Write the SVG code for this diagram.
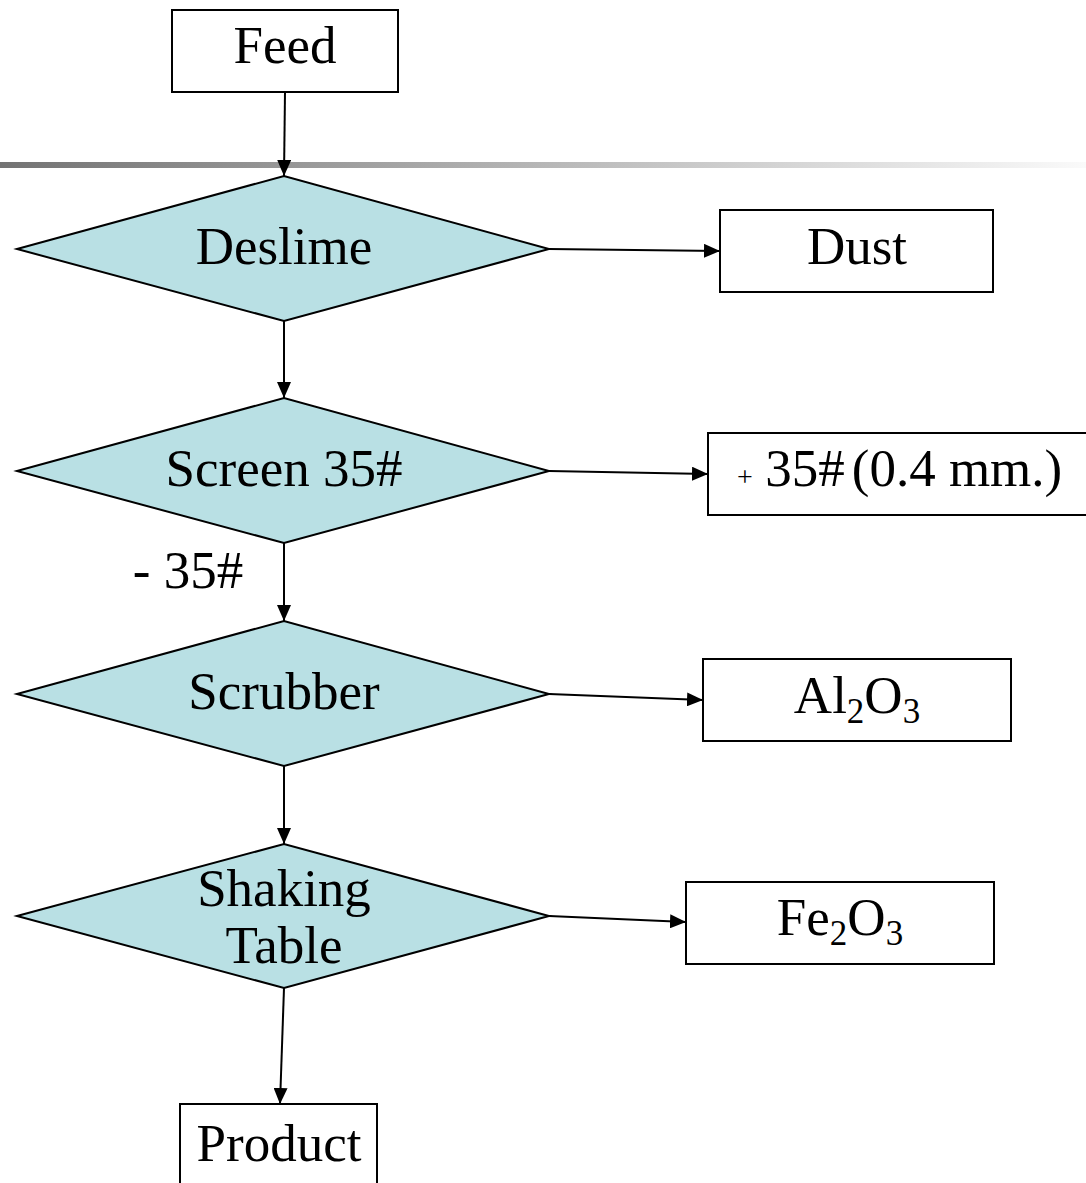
<svg xmlns="http://www.w3.org/2000/svg" width="1086" height="1183" viewBox="0 0 1086 1183">
<style>
.box{fill:#fff;stroke:#000;stroke-width:2}
.dia{fill:#b9e0e4;stroke:#000;stroke-width:2}
.t{font-family:"Liberation Serif","Times New Roman",serif;font-size:53px;fill:#000;text-anchor:middle}
.s{font-size:35px}
.c{stroke:#000;stroke-width:2;fill:none;marker-end:url(#ah)}
</style>
<defs>
<marker id="ah" markerWidth="16" markerHeight="14" refX="16" refY="7" orient="auto" markerUnits="userSpaceOnUse">
<path d="M0,0 L16,7 L0,14 Z" fill="#000"/>
</marker>
<linearGradient id="bar" x1="0" y1="0" x2="1" y2="0">
<stop offset="0" stop-color="#737373"/>
<stop offset="1" stop-color="#fafafa"/>
</linearGradient>
</defs>
<rect x="0" y="162" width="1086" height="6" fill="url(#bar)"/>
<g id="connectors">
<line class="c" x1="285" y1="92" x2="284" y2="176"/>
<line class="c" x1="549" y1="249" x2="720" y2="251"/>
<line class="c" x1="284" y1="321" x2="284" y2="398"/>
<line class="c" x1="549" y1="471" x2="708" y2="474"/>
<line class="c" x1="284" y1="543" x2="284" y2="621"/>
<line class="c" x1="549" y1="694" x2="703" y2="700"/>
<line class="c" x1="284" y1="766" x2="284" y2="844"/>
<line class="c" x1="549" y1="916" x2="686" y2="922"/>
<line class="c" x1="284" y1="988" x2="280" y2="1104"/>
</g>
<g id="feed"><rect class="box" x="172" y="10" width="226" height="82"/><text class="t" x="285" y="63">Feed</text></g>
<g id="deslime"><polygon class="dia" points="17,249 284,176 549,249 284,321"/><text class="t" x="284" y="264">Deslime</text></g>
<g id="dust"><rect class="box" x="720" y="210" width="273" height="82"/><text class="t" x="857" y="264">Dust</text></g>
<g id="screen"><polygon class="dia" points="17,471 284,398 549,471 284,543"/><text class="t" x="284" y="486">Screen 35#</text></g>
<g id="plus35"><rect class="box" x="708" y="433" width="380" height="82"/><text class="t" x="745" y="486" style="font-size:28px">+</text><text class="t" x="805" y="486">35#</text><text class="t" x="957" y="486">(0.4 mm.)</text></g>
<g id="minus35"><text class="t" x="188" y="588">- 35#</text></g>
<g id="scrubber"><polygon class="dia" points="17,694 284,621 549,694 284,766"/><text class="t" x="284" y="709">Scrubber</text></g>
<g id="al2o3"><rect class="box" x="703" y="659" width="308" height="82"/><text class="t" x="857" y="713">Al<tspan class="s" dy="10">2</tspan><tspan dy="-10">O</tspan><tspan class="s" dy="10">3</tspan></text></g>
<g id="shaking"><polygon class="dia" points="17,916 284,844 549,916 284,988"/><text class="t" x="284" y="906">Shaking</text><text class="t" x="284" y="963">Table</text></g>
<g id="fe2o3"><rect class="box" x="686" y="882" width="308" height="82"/><text class="t" x="840" y="935">Fe<tspan class="s" dy="10">2</tspan><tspan dy="-10">O</tspan><tspan class="s" dy="10">3</tspan></text></g>
<g id="product"><rect class="box" x="180" y="1104" width="197" height="90"/><text class="t" x="279" y="1161">Product</text></g>
</svg>
